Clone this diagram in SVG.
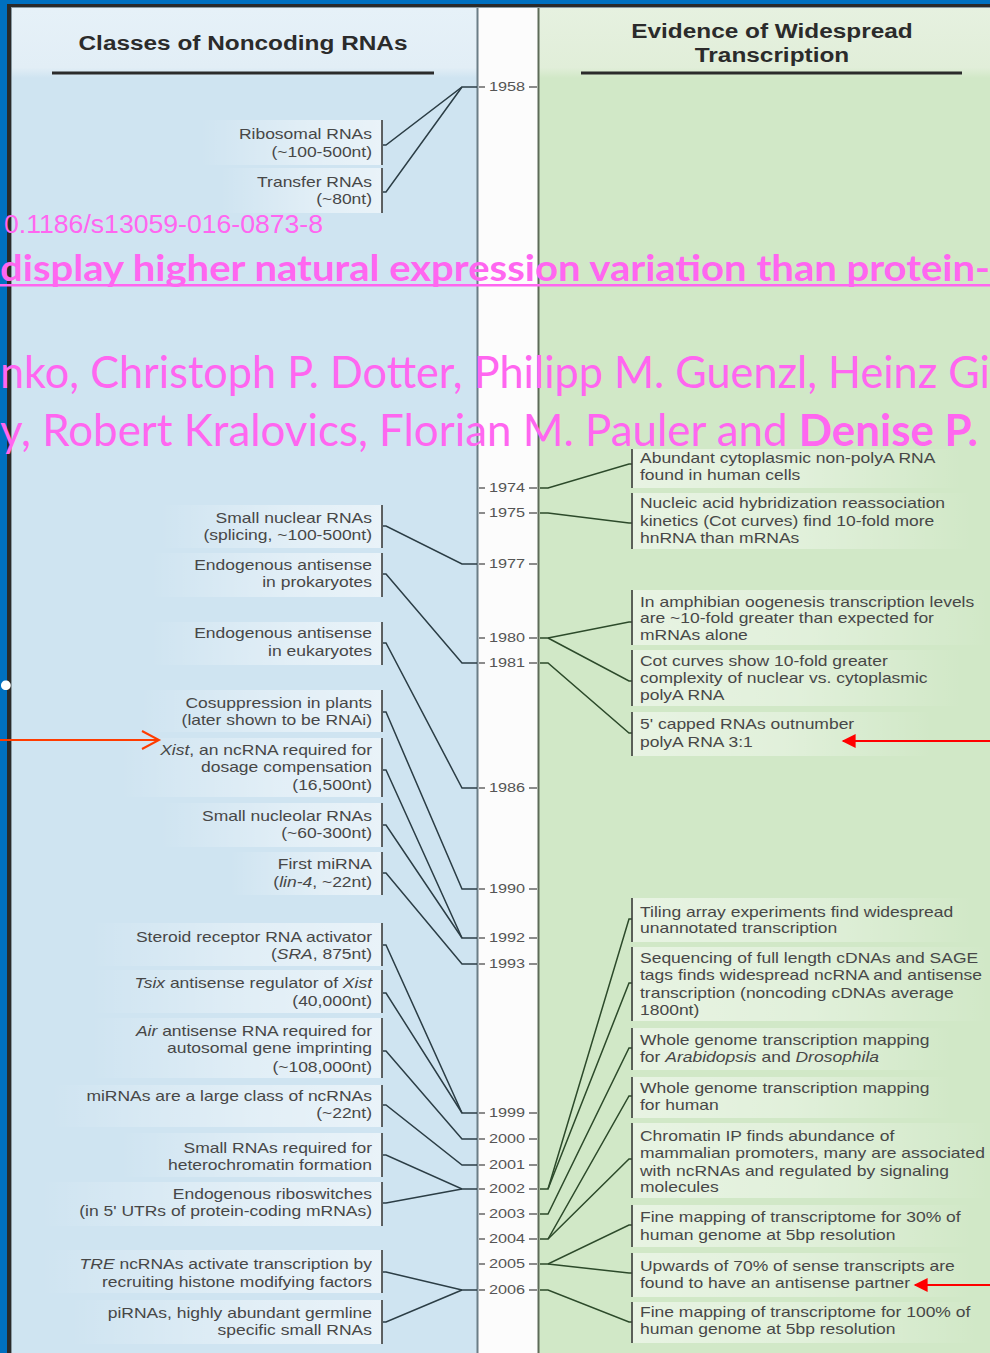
<svg xmlns="http://www.w3.org/2000/svg" width="990" height="1353" viewBox="0 0 990 1353">
  <defs>
    <style>
      .t { font-family: "Liberation Sans", Arial, sans-serif; font-size: 14px; fill: #474747; }
      .lt { text-anchor: end; }
      .hd { font-family: "Liberation Sans", Arial, sans-serif; font-size: 19.5px; font-weight: bold; fill: #2b2b2b; text-anchor: middle; }
      .yr { font-family: "Liberation Sans", Arial, sans-serif; font-size: 13px; fill: #555; text-anchor: middle; }
      .it { font-style: italic; }
      .br { stroke: #3c3c3c; stroke-width: 1.6; }
      .tick { stroke: #666; stroke-width: 1.3; }
      .cl { fill: none; stroke: #2b3d45; stroke-width: 1.5; }
      .cr { fill: none; stroke: #2c4a2a; stroke-width: 1.5; }
      .bl { fill: url(#gl); }
      .bg { fill: url(#gr); }
      .mg { font-family: Lato, "Open Sans", "Liberation Sans", sans-serif; fill: #ff66f0; }
      .doi { font-family: "Liberation Sans", Arial, sans-serif; fill: #ff66f0; }
    </style>
    <linearGradient id="gl" x1="0" y1="0" x2="1" y2="0">
      <stop offset="0" stop-color="#fff" stop-opacity="0"/>
      <stop offset="0.6" stop-color="#fff" stop-opacity="0.4"/>
      <stop offset="1" stop-color="#fff" stop-opacity="0.55"/>
    </linearGradient>
    <linearGradient id="gr" x1="0" y1="0" x2="1" y2="0">
      <stop offset="0" stop-color="#fff" stop-opacity="0.5"/>
      <stop offset="0.5" stop-color="#fff" stop-opacity="0.35"/>
      <stop offset="1" stop-color="#fff" stop-opacity="0"/>
    </linearGradient>
    <linearGradient id="hl" x1="0" y1="0" x2="0" y2="1">
      <stop offset="0" stop-color="#e6f1f8"/>
      <stop offset="0.85" stop-color="#e2eef6"/>
      <stop offset="1" stop-color="#cfe4f1"/>
    </linearGradient>
    <linearGradient id="hr" x1="0" y1="0" x2="0" y2="1">
      <stop offset="0" stop-color="#e6f1e0"/>
      <stop offset="0.85" stop-color="#e1eed9"/>
      <stop offset="1" stop-color="#d1e8c7"/>
    </linearGradient>
    <marker id="ah" viewBox="0 0 10 10" refX="9" refY="5" markerWidth="17" markerHeight="14" markerUnits="userSpaceOnUse" orient="auto">
      <path d="M0,0 L10,5 L0,10 Z" fill="#ff0000"/>
    </marker>
  </defs>

  <!-- frame and panels -->
  <rect x="0" y="0" width="990" height="1353" fill="#0070c0"/>
  <rect x="7" y="4" width="983" height="1349" fill="#2a2a2a"/>
  <rect x="11" y="7" width="979" height="1346" fill="#8a9aa2"/>
  <rect x="12" y="8" width="465" height="1345" fill="#cfe4f1"/>
  <rect x="12" y="8" width="465" height="70" fill="url(#hl)"/>
  <rect x="478" y="8" width="60" height="1345" fill="#fcfcfc"/>
  <rect x="539" y="8" width="451" height="1345" fill="#d1e8c7"/>
  <rect x="539" y="8" width="451" height="70" fill="url(#hr)"/>
  <line x1="477.5" y1="8" x2="477.5" y2="1353" stroke="#6b7d86" stroke-width="2"/>
  <line x1="538.5" y1="8" x2="538.5" y2="1353" stroke="#5d6b58" stroke-width="2"/>

  <!-- column headers -->
  <g id="header-left">
    <g transform="translate(243 0) scale(1.25 1)"><text class="hd" y="50">Classes of Noncoding RNAs</text></g>
    <line x1="52" y1="73" x2="434" y2="73" stroke="#2b2b2b" stroke-width="3"/>
  </g>
  <g id="header-right">
    <g transform="translate(772 0) scale(1.25 1)">
      <text class="hd" y="38">Evidence of Widespread</text>
      <text class="hd" y="62">Transcription</text>
    </g>
    <line x1="581" y1="73" x2="962" y2="73" stroke="#2b2b2b" stroke-width="3"/>
  </g>

  <!-- timeline years -->
  <g id="timeline">
    <g transform="translate(507 0) scale(1.25 1)">
      <text class="yr" y="91.5">1958</text>
      <text class="yr" y="492.5">1974</text>
      <text class="yr" y="517.5">1975</text>
      <text class="yr" y="568.5">1977</text>
      <text class="yr" y="642.5">1980</text>
      <text class="yr" y="667.5">1981</text>
      <text class="yr" y="792.5">1986</text>
      <text class="yr" y="893.5">1990</text>
      <text class="yr" y="942.5">1992</text>
      <text class="yr" y="968.5">1993</text>
      <text class="yr" y="1117.5">1999</text>
      <text class="yr" y="1143.5">2000</text>
      <text class="yr" y="1169.5">2001</text>
      <text class="yr" y="1193.5">2002</text>
      <text class="yr" y="1218.5">2003</text>
      <text class="yr" y="1243.5">2004</text>
      <text class="yr" y="1268.5">2005</text>
      <text class="yr" y="1294.5">2006</text>
    </g>
    <path class="tick" d="M479,87h6M529,87h8 M479,488h6M529,488h8 M479,513h6M529,513h8 M479,564h6M529,564h8 M479,638h6M529,638h8 M479,663h6M529,663h8 M479,788h6M529,788h8 M479,889h6M529,889h8 M479,938h6M529,938h8 M479,964h6M529,964h8 M479,1113h6M529,1113h8 M479,1139h6M529,1139h8 M479,1165h6M529,1165h8 M479,1189h6M529,1189h8 M479,1214h6M529,1214h8 M479,1239h6M529,1239h8 M479,1264h6M529,1264h8 M479,1290h6M529,1290h8"/>
  </g>

  <!-- connectors -->
  <g id="connectors">
    <path class="cl" d="M383,145 h3 L462,87 H477"/>
    <path class="cl" d="M383,192 h3 L462,87"/>
    <path class="cl" d="M383,526 h3 L462,564 H477"/>
    <path class="cl" d="M383,574 h3 L462,663 H477"/>
    <path class="cl" d="M383,643 h3 L462,788 H477"/>
    <path class="cl" d="M383,712 h3 L462,889 H477"/>
    <path class="cl" d="M383,770 h3 L462,938 H477"/>
    <path class="cl" d="M383,825 h3 L462,938"/>
    <path class="cl" d="M383,873 h3 L462,964 H477"/>
    <path class="cl" d="M383,945 h3 L462,1113 H477"/>
    <path class="cl" d="M383,993 h3 L462,1113"/>
    <path class="cl" d="M383,1051 h3 L462,1139 H477"/>
    <path class="cl" d="M383,1105 h3 L462,1165 H477"/>
    <path class="cl" d="M383,1155 h3 L462,1189 H477"/>
    <path class="cl" d="M383,1203 h3 L462,1189"/>
    <path class="cl" d="M383,1272 h3 L462,1290 H477"/>
    <path class="cl" d="M383,1322 h3 L462,1290"/>

    <path class="cr" d="M540,488 H548 L629,464 H632"/>
    <path class="cr" d="M540,513 H548 L629,523 H632"/>
    <path class="cr" d="M540,638 H548 L629,622 H632"/>
    <path class="cr" d="M548,638 L629,681 H632"/>
    <path class="cr" d="M540,663 H548 L629,733 H632"/>
    <path class="cr" d="M540,1189 H548 L629,919 H632"/>
    <path class="cr" d="M548,1189 L629,983 H632"/>
    <path class="cr" d="M540,1214 H548 L629,1048 H632"/>
    <path class="cr" d="M540,1239 H548 L629,1096 H632"/>
    <path class="cr" d="M548,1239 L629,1159 H632"/>
    <path class="cr" d="M540,1264 H548 L629,1225 H632"/>
    <path class="cr" d="M548,1264 L629,1273 H632"/>
    <path class="cr" d="M540,1290 H548 L629,1322 H632"/>
  </g>

  <!-- noncoding RNA classes -->
  <g id="n-rrna">
    <rect class="bl" x="200" y="120" width="182" height="45"/>
    <line class="br" x1="382" y1="120" x2="382" y2="165"/>
    <g transform="translate(372 0) scale(1.25 1)"><text class="t lt" y="139">Ribosomal RNAs</text><text class="t lt" y="157">(~100-500nt)</text></g>
  </g>
  <g id="n-trna">
    <rect class="bl" x="220" y="168" width="162" height="45"/>
    <line class="br" x1="382" y1="168" x2="382" y2="213"/>
    <g transform="translate(372 0) scale(1.25 1)"><text class="t lt" y="187">Transfer RNAs</text><text class="t lt" y="204">(~80nt)</text></g>
  </g>
  <g id="n-snrna">
    <rect class="bl" x="160" y="505" width="222" height="43"/>
    <line class="br" x1="382" y1="505" x2="382" y2="548"/>
    <g transform="translate(372 0) scale(1.25 1)"><text class="t lt" y="523">Small nuclear RNAs</text><text class="t lt" y="540">(splicing, ~100-500nt)</text></g>
  </g>
  <g id="n-antisense-prok">
    <rect class="bl" x="150" y="553" width="232" height="44"/>
    <line class="br" x1="382" y1="553" x2="382" y2="597"/>
    <g transform="translate(372 0) scale(1.25 1)"><text class="t lt" y="570">Endogenous antisense</text><text class="t lt" y="587">in prokaryotes</text></g>
  </g>
  <g id="n-antisense-euk">
    <rect class="bl" x="150" y="622" width="232" height="43"/>
    <line class="br" x1="382" y1="622" x2="382" y2="665"/>
    <g transform="translate(372 0) scale(1.25 1)"><text class="t lt" y="638">Endogenous antisense</text><text class="t lt" y="656">in eukaryotes</text></g>
  </g>
  <g id="n-cosuppression">
    <rect class="bl" x="140" y="690" width="242" height="42"/>
    <line class="br" x1="382" y1="690" x2="382" y2="732"/>
    <g transform="translate(372 0) scale(1.25 1)"><text class="t lt" y="708">Cosuppression in plants</text><text class="t lt" y="725">(later shown to be RNAi)</text></g>
  </g>
  <g id="n-xist">
    <rect class="bl" x="120" y="738" width="262" height="59"/>
    <line class="br" x1="382" y1="738" x2="382" y2="797"/>
    <g transform="translate(372 0) scale(1.25 1)"><text class="t lt" y="755"><tspan class="it">Xist</tspan>, an ncRNA required for</text><text class="t lt" y="772">dosage compensation</text><text class="t lt" y="790">(16,500nt)</text></g>
  </g>
  <g id="n-snorna">
    <rect class="bl" x="160" y="803" width="222" height="44"/>
    <line class="br" x1="382" y1="803" x2="382" y2="847"/>
    <g transform="translate(372 0) scale(1.25 1)"><text class="t lt" y="821">Small nucleolar RNAs</text><text class="t lt" y="838">(~60-300nt)</text></g>
  </g>
  <g id="n-lin4">
    <rect class="bl" x="230" y="852" width="152" height="43"/>
    <line class="br" x1="382" y1="852" x2="382" y2="895"/>
    <g transform="translate(372 0) scale(1.25 1)"><text class="t lt" y="869">First miRNA</text><text class="t lt" y="887">(<tspan class="it">lin-4</tspan>, ~22nt)</text></g>
  </g>
  <g id="n-sra">
    <rect class="bl" x="90" y="923" width="292" height="43"/>
    <line class="br" x1="382" y1="923" x2="382" y2="966"/>
    <g transform="translate(372 0) scale(1.25 1)"><text class="t lt" y="942">Steroid receptor RNA activator</text><text class="t lt" y="959">(<tspan class="it">SRA</tspan>, 875nt)</text></g>
  </g>
  <g id="n-tsix">
    <rect class="bl" x="90" y="970" width="292" height="43"/>
    <line class="br" x1="382" y1="970" x2="382" y2="1013"/>
    <g transform="translate(372 0) scale(1.25 1)"><text class="t lt" y="988"><tspan class="it">Tsix</tspan> antisense regulator of <tspan class="it">Xist</tspan></text><text class="t lt" y="1006">(40,000nt)</text></g>
  </g>
  <g id="n-air">
    <rect class="bl" x="90" y="1018" width="292" height="60"/>
    <line class="br" x1="382" y1="1018" x2="382" y2="1078"/>
    <g transform="translate(372 0) scale(1.25 1)"><text class="t lt" y="1036"><tspan class="it">Air</tspan> antisense RNA required for</text><text class="t lt" y="1053">autosomal gene imprinting</text><text class="t lt" y="1072">(~108,000nt)</text></g>
  </g>
  <g id="n-mirna">
    <rect class="bl" x="50" y="1085" width="332" height="42"/>
    <line class="br" x1="382" y1="1085" x2="382" y2="1127"/>
    <g transform="translate(372 0) scale(1.25 1)"><text class="t lt" y="1101">miRNAs are a large class of ncRNAs</text><text class="t lt" y="1118">(~22nt)</text></g>
  </g>
  <g id="n-heterochromatin">
    <rect class="bl" x="120" y="1133" width="262" height="44"/>
    <line class="br" x1="382" y1="1133" x2="382" y2="1177"/>
    <g transform="translate(372 0) scale(1.25 1)"><text class="t lt" y="1153">Small RNAs required for</text><text class="t lt" y="1170">heterochromatin formation</text></g>
  </g>
  <g id="n-riboswitch">
    <rect class="bl" x="40" y="1182" width="342" height="44"/>
    <line class="br" x1="382" y1="1182" x2="382" y2="1226"/>
    <g transform="translate(372 0) scale(1.25 1)"><text class="t lt" y="1199">Endogenous riboswitches</text><text class="t lt" y="1216">(in 5' UTRs of protein-coding mRNAs)</text></g>
  </g>
  <g id="n-tre">
    <rect class="bl" x="40" y="1250" width="342" height="43"/>
    <line class="br" x1="382" y1="1250" x2="382" y2="1293"/>
    <g transform="translate(372 0) scale(1.25 1)"><text class="t lt" y="1269"><tspan class="it">TRE</tspan> ncRNAs activate transcription by</text><text class="t lt" y="1287">recruiting histone modifying factors</text></g>
  </g>
  <g id="n-pirna">
    <rect class="bl" x="70" y="1300" width="312" height="44"/>
    <line class="br" x1="382" y1="1300" x2="382" y2="1344"/>
    <g transform="translate(372 0) scale(1.25 1)"><text class="t lt" y="1318">piRNAs, highly abundant germline</text><text class="t lt" y="1335">specific small RNAs</text></g>
  </g>

  <!-- evidence of widespread transcription -->
  <g id="e-nonpolya">
    <rect class="bg" x="633" y="449" width="330" height="39"/>
    <line class="br" x1="632" y1="449" x2="632" y2="488"/>
    <g transform="translate(640 0) scale(1.25 1)"><text class="t" y="463">Abundant cytoplasmic non-polyA RNA</text><text class="t" y="480">found in human cells</text></g>
  </g>
  <g id="e-cot">
    <rect class="bg" x="633" y="493" width="340" height="56"/>
    <line class="br" x1="632" y1="493" x2="632" y2="549"/>
    <g transform="translate(640 0) scale(1.25 1)"><text class="t" y="508">Nucleic acid hybridization reassociation</text><text class="t" y="526">kinetics (Cot curves) find 10-fold more</text><text class="t" y="543">hnRNA than mRNAs</text></g>
  </g>
  <g id="e-oogenesis">
    <rect class="bg" x="633" y="590" width="357" height="55"/>
    <line class="br" x1="632" y1="590" x2="632" y2="645"/>
    <g transform="translate(640 0) scale(1.25 1)"><text class="t" y="607">In amphibian oogenesis transcription levels</text><text class="t" y="623">are ~10-fold greater than expected for</text><text class="t" y="640">mRNAs alone</text></g>
  </g>
  <g id="e-complexity">
    <rect class="bg" x="633" y="650" width="330" height="56"/>
    <line class="br" x1="632" y1="650" x2="632" y2="706"/>
    <g transform="translate(640 0) scale(1.25 1)"><text class="t" y="666">Cot curves show 10-fold greater</text><text class="t" y="683">complexity of nuclear vs. cytoplasmic</text><text class="t" y="700">polyA RNA</text></g>
  </g>
  <g id="e-capped">
    <rect class="bg" x="633" y="712" width="300" height="44"/>
    <line class="br" x1="632" y1="712" x2="632" y2="756"/>
    <g transform="translate(640 0) scale(1.25 1)"><text class="t" y="729">5' capped RNAs outnumber</text><text class="t" y="747">polyA RNA 3:1</text></g>
  </g>
  <g id="e-tiling">
    <rect class="bg" x="633" y="898" width="340" height="44"/>
    <line class="br" x1="632" y1="898" x2="632" y2="942"/>
    <g transform="translate(640 0) scale(1.25 1)"><text class="t" y="917">Tiling array experiments find widespread</text><text class="t" y="933">unannotated transcription</text></g>
  </g>
  <g id="e-cdna">
    <rect class="bg" x="633" y="947" width="357" height="74"/>
    <line class="br" x1="632" y1="947" x2="632" y2="1021"/>
    <g transform="translate(640 0) scale(1.25 1)"><text class="t" y="963">Sequencing of full length cDNAs and SAGE</text><text class="t" y="980">tags finds widespread ncRNA and antisense</text><text class="t" y="998">transcription (noncoding cDNAs average</text><text class="t" y="1015">1800nt)</text></g>
  </g>
  <g id="e-fly">
    <rect class="bg" x="633" y="1028" width="320" height="42"/>
    <line class="br" x1="632" y1="1028" x2="632" y2="1070"/>
    <g transform="translate(640 0) scale(1.25 1)"><text class="t" y="1045">Whole genome transcription mapping</text><text class="t" y="1062">for <tspan class="it">Arabidopsis</tspan> and <tspan class="it">Drosophila</tspan></text></g>
  </g>
  <g id="e-human">
    <rect class="bg" x="633" y="1077" width="320" height="41"/>
    <line class="br" x1="632" y1="1077" x2="632" y2="1118"/>
    <g transform="translate(640 0) scale(1.25 1)"><text class="t" y="1093">Whole genome transcription mapping</text><text class="t" y="1110">for human</text></g>
  </g>
  <g id="e-chip">
    <rect class="bg" x="633" y="1123" width="357" height="75"/>
    <line class="br" x1="632" y1="1123" x2="632" y2="1198"/>
    <g transform="translate(640 0) scale(1.25 1)"><text class="t" y="1141">Chromatin IP finds abundance of</text><text class="t" y="1158">mammalian promoters, many are associated</text><text class="t" y="1176">with ncRNAs and regulated by signaling</text><text class="t" y="1192">molecules</text></g>
  </g>
  <g id="e-fine30">
    <rect class="bg" x="633" y="1205" width="340" height="42"/>
    <line class="br" x1="632" y1="1205" x2="632" y2="1247"/>
    <g transform="translate(640 0) scale(1.25 1)"><text class="t" y="1222">Fine mapping of transcriptome for 30% of</text><text class="t" y="1240">human genome at 5bp resolution</text></g>
  </g>
  <g id="e-antisense">
    <rect class="bg" x="633" y="1253" width="340" height="44"/>
    <line class="br" x1="632" y1="1253" x2="632" y2="1297"/>
    <g transform="translate(640 0) scale(1.25 1)"><text class="t" y="1271">Upwards of 70% of sense transcripts are</text><text class="t" y="1288">found to have an antisense partner</text></g>
  </g>
  <g id="e-fine100">
    <rect class="bg" x="633" y="1302" width="345" height="41"/>
    <line class="br" x1="632" y1="1302" x2="632" y2="1343"/>
    <g transform="translate(640 0) scale(1.25 1)"><text class="t" y="1317">Fine mapping of transcriptome for 100% of</text><text class="t" y="1334">human genome at 5bp resolution</text></g>
  </g>

  <!-- pointer arrows -->
  <g id="pointers">
    <line x1="0" y1="740" x2="158" y2="740" stroke="#ff3c00" stroke-width="2"/>
    <path d="M142,731 L159,740 L142,749" fill="none" stroke="#ff3c00" stroke-width="2"/>
    <line x1="990" y1="741" x2="843" y2="741" stroke="#ff0000" stroke-width="2.2" marker-end="url(#ah)"/>
    <line x1="990" y1="1285" x2="915" y2="1285" stroke="#ff0000" stroke-width="2.2" marker-end="url(#ah)"/>
  </g>

  <!-- citation overlay -->
  <g id="overlay">
    <text class="doi" x="4" y="233" font-size="25" textLength="319" lengthAdjust="spacingAndGlyphs">0.1186/s13059-016-0873-8</text>
    <text class="mg" x="0" y="281" font-size="37" font-weight="bold" textLength="990" lengthAdjust="spacingAndGlyphs">display higher natural expression variation than protein-</text>
    <rect x="0" y="284" width="990" height="2.5" fill="#ff66f0"/>
    <text class="mg" x="0" y="388" font-size="44" textLength="990" lengthAdjust="spacingAndGlyphs">nko, Christoph P. Dotter, Philipp M. Guenzl, Heinz Gi</text>
    <text class="mg" x="0" y="446" font-size="44" textLength="978" lengthAdjust="spacingAndGlyphs">y, Robert Kralovics, Florian M. Pauler and <tspan font-weight="bold">Denise P.</tspan></text>
    <text x="0" y="690" font-family="Lato, sans-serif" font-size="64" font-weight="bold" font-style="italic" fill="#ffffff">.</text>
  </g>
</svg>
